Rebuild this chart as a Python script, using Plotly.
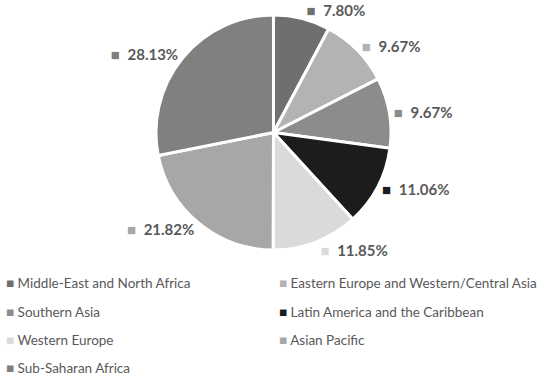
import plotly.graph_objects as go

regions = ["Middle-East and North Africa", "Eastern Europe and Western/Central Asia",
           "Southern Asia", "Latin America and the Caribbean", "Western Europe",
           "Asian Pacific", "Sub-Saharan Africa"]
shares = [7.80, 9.67, 9.67, 11.06, 11.85, 21.82, 28.13]
colors = ["#6f6f6f", "#b3b3b3", "#8c8c8c", "#1c1c1c", "#dadada", "#a7a7a7", "#808080"]

texts = [f"<span style='color:{c}'>■</span>  <b>{v:.2f}%</b>" for c, v in zip(colors, shares)]

W, H = 550, 379
B = 129          # space reserved for legend rows
GH = H - B       # plot-area height

fig = go.Figure()
fig.add_trace(go.Pie(
    labels=regions, values=shares, sort=False, direction="clockwise", rotation=0,
    marker=dict(colors=colors, line=dict(color="white", width=3)),
    text=texts, textinfo="text", textposition="outside", automargin=False,
    textfont=dict(family="Lato", size=15, color="#595959"),
    domain=dict(x=[0.2836, 0.7109], y=[0.0, 0.94]),
    hoverinfo="label+percent", showlegend=False,
))

# legend: two columns, one small legend box per entry
row_y = [283, 312, 340, 368]
col_x = [-34, 239]
layout_legends = {}
for i, (name, c) in enumerate(zip(regions, colors)):
    row, col = divmod(i, 2)
    ln = "legend" if i == 0 else f"legend{i + 1}"
    fig.add_trace(go.Scatter(
        x=[None], y=[None], mode="lines", line=dict(width=0, color=c),
        name=f"<span style='color:{c}'>■</span> {name}",
        legend=ln, showlegend=True, hoverinfo="skip",
    ))
    layout_legends[ln] = dict(
        orientation="h", x=col_x[col] / W, xanchor="left",
        y=(GH - row_y[row]) / GH, yanchor="middle", itemwidth=30,
        font=dict(family="Lato", size=13.5, color="#595959"),
        bgcolor="rgba(0,0,0,0)", borderwidth=0,
    )

fig.update_layout(
    width=W, height=H,
    margin=dict(l=0, r=0, t=0, b=B, autoexpand=False),
    paper_bgcolor="white", plot_bgcolor="white",
    xaxis=dict(visible=False), yaxis=dict(visible=False),
    font=dict(family="Lato"),
    **layout_legends,
)

fig.write_html("out.html", config={"displayModeBar": False},
               post_script="document.body.style.margin='0';")
